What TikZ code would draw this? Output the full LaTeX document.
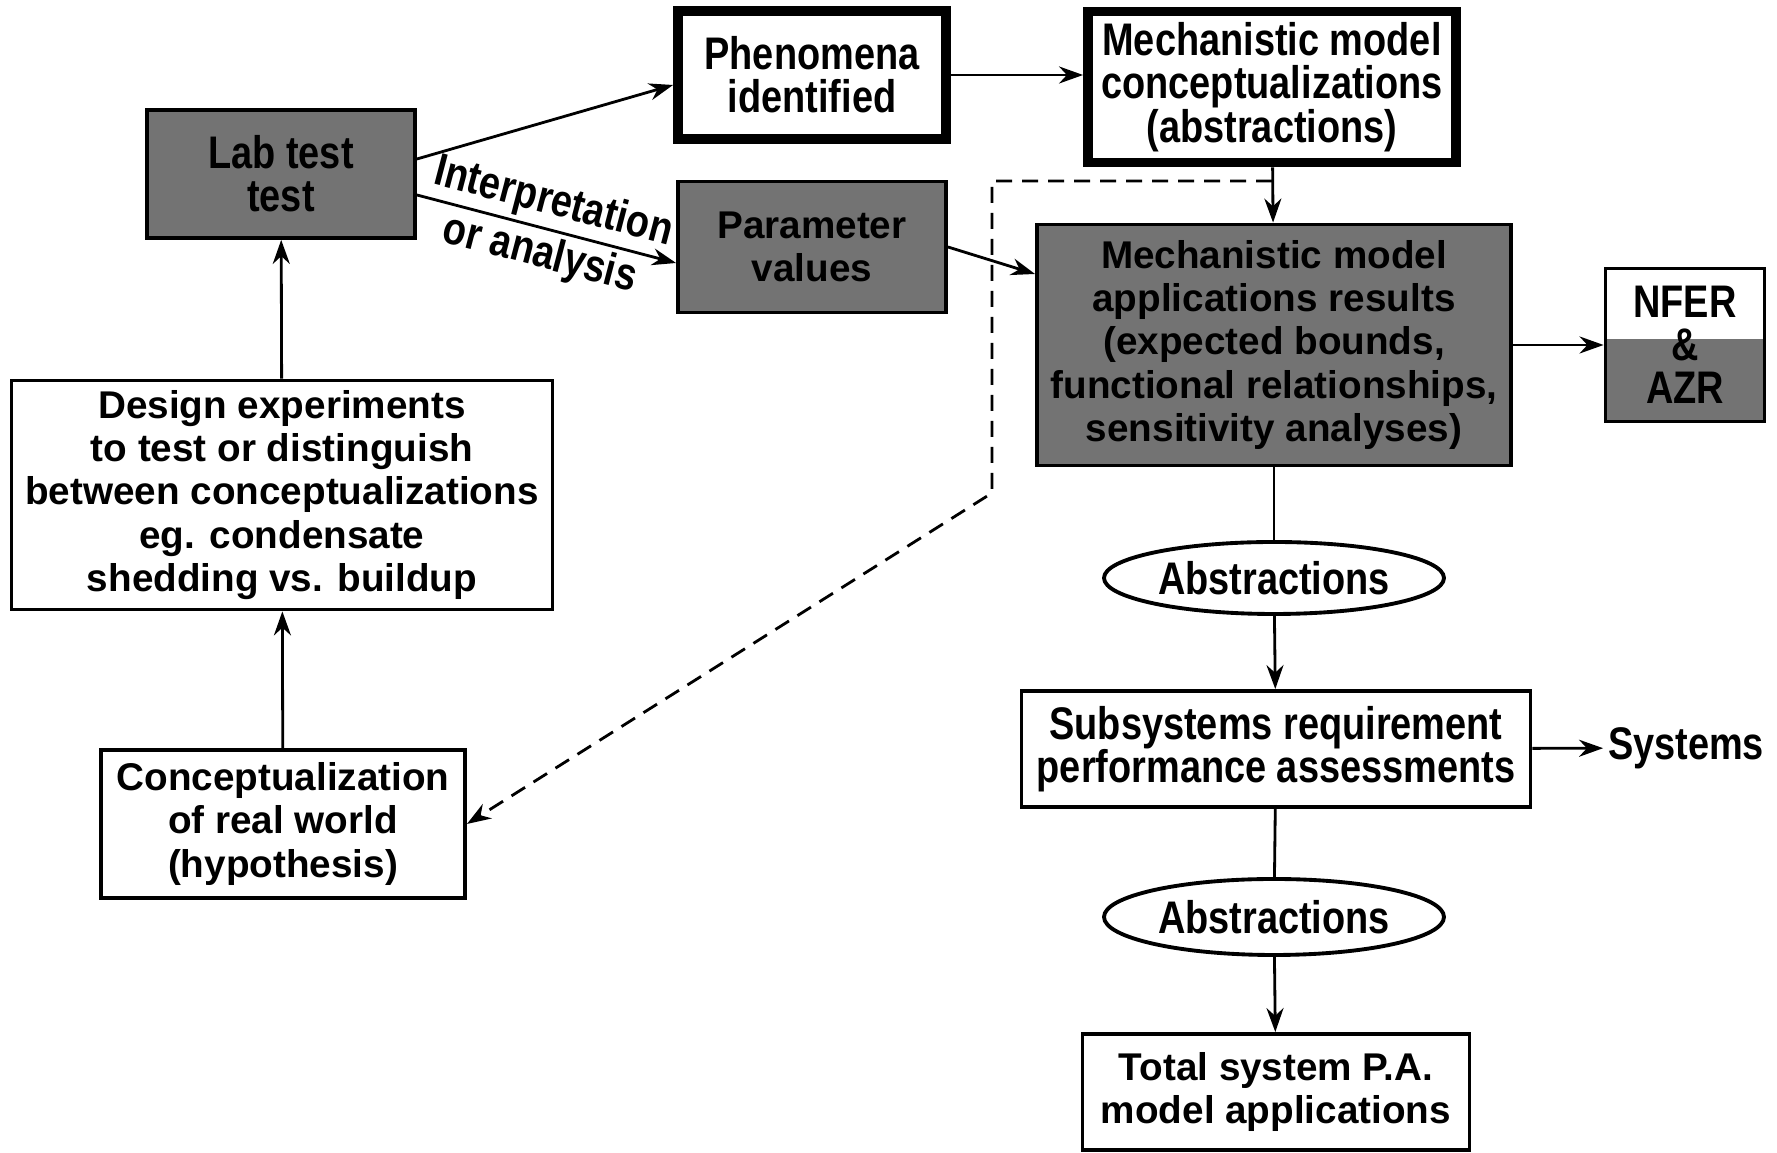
\documentclass[tikz,border=0pt]{standalone}
\usepackage{fontspec}
\setmainfont{Liberation Sans}
\newfontfamily\narrowfont[FakeStretch=0.83]{Liberation Sans}
\usetikzlibrary{shapes.geometric,arrows.meta}

\newcommand{\widetext}{\fontsize{11}{12.3}\selectfont\bfseries}
\newcommand{\tallnarrow}{\narrowfont\fontsize{13}{12.3}\selectfont\bfseries}

\begin{document}
\begin{tikzpicture}[>={Stealth[length=2.4mm,width=1.7mm]}, line width=0.8pt]
  \tikzset{
    box/.style={draw, line width=1.1pt, align=center, inner sep=0pt, font=\widetext},
    shadebox/.style={box, fill=black!55, text=black},
    roughbox/.style={box, line width=2.8pt, font=\tallnarrow},
    oval/.style={draw, ellipse, line width=1.1pt, inner sep=0pt, font=\tallnarrow}
  }
  \useasboundingbox (0,0) rectangle (17.77,-11.53);

  \node[shadebox, font=\tallnarrow, minimum width=2.68cm, minimum height=1.28cm] (lab) at (2.81,-1.74) {Lab test\\test};
  \node[roughbox, minimum width=2.68cm, minimum height=1.28cm] (phen) at (8.12,-0.75) {Phenomena\\identified};
  \node[roughbox, minimum width=3.68cm, minimum height=1.51cm] (conc) at (12.72,-0.87) {Mechanistic model\\conceptualizations\\(abstractions)};
  \node[shadebox, minimum width=2.68cm, minimum height=1.31cm] (par) at (8.12,-2.47) {Parameter\\values};
  \node[shadebox, minimum width=4.74cm, minimum height=2.41cm] (res) at (12.74,-3.45) {Mechanistic model\\applications results\\(expected bounds,\\functional relationships,\\sensitivity analyses)};
  \node[box, font=\tallnarrow, minimum width=1.59cm, minimum height=1.53cm,
    path picture={\fill[black!55] (path picture bounding box.south west) rectangle ([yshift=-7.1mm]path picture bounding box.north east);}]
    (nfer) at (16.85,-3.45) {NFER\\\&\\AZR};
  \node[box, minimum width=5.41cm, minimum height=2.29cm] (des) at (2.82,-4.95) {Design experiments\\to test or distinguish\\between conceptualizations\\eg. condensate\\shedding vs. buildup};
  \node[box, minimum width=3.64cm, minimum height=1.48cm] (con) at (2.83,-8.24) {Conceptualization\\of real world\\(hypothesis)};
  \node[oval, minimum width=3.40cm, minimum height=0.72cm] (abs1) at (12.74,-5.78) {Abstractions};
  \node[box, font=\tallnarrow, minimum width=5.09cm, minimum height=1.16cm] (sub) at (12.76,-7.49) {Subsystems requirement\\performance assessments};
  \node[font=\tallnarrow, inner sep=1pt] (sys) at (16.86,-7.48) {Systems};
  \node[oval, minimum width=3.40cm, minimum height=0.76cm] (abs2) at (12.74,-9.17) {Abstractions};
  \node[box, minimum width=3.87cm, minimum height=1.16cm] (tot) at (12.76,-10.92) {Total system P.A.\\model applications};

  \coordinate (dj) at (12.72,-1.81);
  \coordinate (dk) at (9.92,-1.81);
  \coordinate (dl) at (9.92,-4.93);

  \draw[->] (con) -- (des);
  \draw[->] (des) -- (lab);
  \draw[->] ([yshift=1.5mm]lab.east) -- ([yshift=-1mm]phen.west);
  \draw[->] ([yshift=-2.1mm]lab.east) -- node[sloped, font=\tallnarrow, align=center] {Interpretation\\[3pt]or analysis} ([yshift=-1.6mm]par.west);
  \draw[->] (phen.east) -- (phen.east -| conc.west);
  \draw[->] (conc) -- (res);
  \draw[->] (par.east) -- ([yshift=7.1mm]res.west);
  \draw[->] (res) -- (nfer);
  \draw (res) -- (abs1);
  \draw[->] (abs1) -- (sub);
  \draw[->] (sub) -- (sys);
  \draw (sub) -- (abs2);
  \draw[->] (abs2) -- (tot);
  \draw[->, dash pattern=on 1.6mm off 1mm] (dj) -- (dk) -- (dl) -- (con.east);
\end{tikzpicture}
\end{document}
